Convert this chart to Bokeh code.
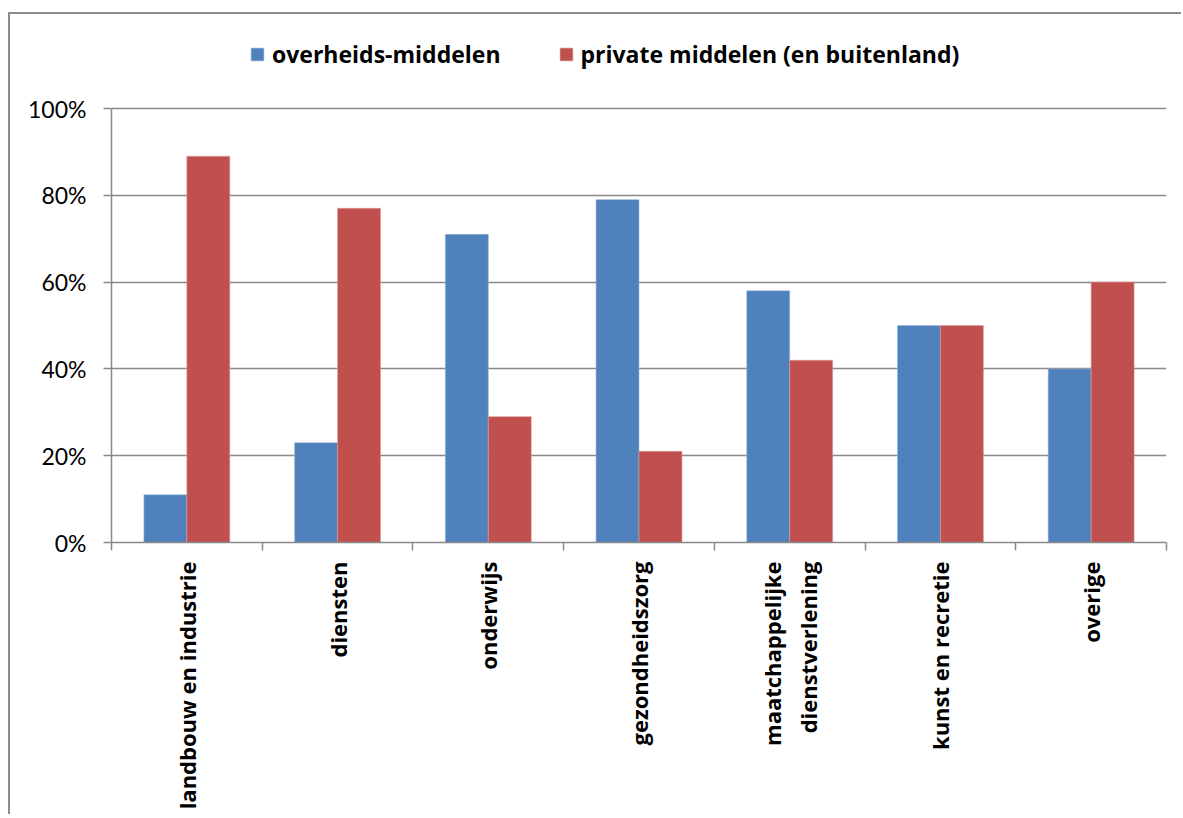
from bokeh.plotting import figure
from bokeh.models import ColumnDataSource, Legend, LegendItem, FixedTicker, PrintfTickFormatter, Range1d
from bokeh.transform import dodge
from bokeh.embed import file_html
from bokeh.resources import INLINE
import numpy as np

categories = ["landbouw en industrie", "diensten", "onderwijs", "gezondheidszorg",
              "maatchappelijke\ndienstverlening", "kunst en recretie", "overige"]
overheids = [11, 23, 71, 79, 58, 50, 40]
privaat = [89, 77, 29, 21, 42, 50, 60]
series_names = ["overheids-middelen", "private middelen (en buitenland)"]
y_ticks = [0, 20, 40, 60, 80, 100]

BLUE = "#4F81BD"
RED = "#C0504D"
GRAY = "#898989"
BOLD_FONT = "Open Sans"
TICK_FONT = "Lato"

pos = [i + 0.5 for i in range(len(categories))]
src = ColumnDataSource(dict(x=pos, a=overheids, b=privaat))

# frame spans the full upper area so that the legend sits inside it (no clipping);
# 100% is placed 94px below the frame top
FRAME_H = 528
PX_PER_UNIT = 434 / 100
y_top = FRAME_H / PX_PER_UNIT

p = figure(width=1173, height=802,
           x_range=Range1d(0, len(categories)), y_range=Range1d(0, y_top),
           output_backend="svg", toolbar_location=None,
           min_border_left=101, min_border_right=17, min_border_top=0, min_border_bottom=274)
p.styles = {"margin-left": "8px", "margin-top": "12px",
            "border-left": "2px solid #8c8c8c", "border-top": "2px solid #8c8c8c"}
p.outline_line_color = None
p.background_fill_color = "white"
p.border_fill_color = "white"

ra = p.vbar(x=dodge('x', -0.1425), top='a', width=0.285, source=src,
            fill_color=BLUE, line_color="#9db5d8", line_width=0.6)
rb = p.vbar(x=dodge('x', 0.1425), top='b', width=0.285, source=src,
            fill_color=RED, line_color="#d99a98", line_width=0.6)

# grid
p.xgrid.grid_line_color = None
p.ygrid.ticker = FixedTicker(ticks=y_ticks)
p.ygrid.grid_line_color = GRAY
p.ygrid.grid_line_width = 1.5

# y axis
ya = p.yaxis[0]
ya.ticker = FixedTicker(ticks=y_ticks)
ya.bounds = (0, 100)
ya.formatter = PrintfTickFormatter(format="%d%%")
ya.axis_line_color = GRAY
ya.axis_line_width = 1.5
ya.major_tick_line_color = GRAY
ya.major_tick_line_width = 1.5
ya.major_tick_out = 8
ya.major_tick_in = 0
ya.minor_tick_line_color = None
ya.major_label_standoff = 17
ya.major_label_text_font = TICK_FONT
ya.major_label_text_font_size = "23px"
ya.major_label_text_color = "black"

# x axis
xa = p.xaxis[0]
xa.ticker = FixedTicker(ticks=pos, minor_ticks=list(range(len(categories) + 1)))
xa.major_label_overrides = {x: c for x, c in zip(pos, categories)}
xa.major_label_orientation = np.pi / 2
xa.axis_line_color = GRAY
xa.axis_line_width = 1.5
xa.major_tick_line_color = None
xa.major_tick_out = 0
xa.major_tick_in = 0
xa.minor_tick_line_color = GRAY
xa.minor_tick_line_width = 1.5
xa.minor_tick_out = 8
xa.minor_tick_in = 0
xa.major_label_standoff = 11
xa.major_label_text_font = BOLD_FONT
xa.major_label_text_font_style = "bold"
xa.major_label_text_font_size = "22px"
xa.major_label_text_color = "black"

legend = Legend(items=[LegendItem(label=series_names[0], renderers=[ra]),
                       LegendItem(label=series_names[1], renderers=[rb])],
                orientation="horizontal", location=(138, 472),
                glyph_width=16, glyph_height=16, label_standoff=7, spacing=57,
                padding=0, margin=0, border_line_color=None, background_fill_alpha=0,
                label_text_font=BOLD_FONT, label_text_font_style="bold",
                label_text_font_size="23px", label_text_color="black")
p.add_layout(legend)

open("out.html", "w").write(file_html(p, INLINE))
